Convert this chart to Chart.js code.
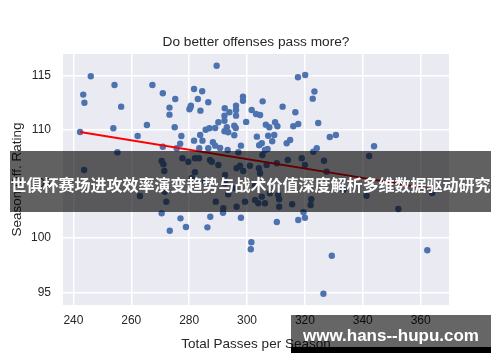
<!DOCTYPE html>
<html><head><meta charset="utf-8">
<script src="https://cdn.jsdelivr.net/npm/chart.js@4.4.0/dist/chart.umd.min.js"></script>
<style>
html,body{margin:0;padding:0;background:#fff;}
#wrap{position:relative;width:500px;height:362px;overflow:hidden;}
canvas{position:absolute;left:0;top:0;}
#band{position:absolute;left:10px;top:151px;width:481px;height:61px;background:rgba(0,0,0,0.62);}
#bandText{position:absolute;left:10px;top:151px;width:481px;height:61px;box-sizing:border-box;padding-top:5px;display:flex;align-items:center;justify-content:center;color:#fff;font-family:"Noto Sans CJK SC",sans-serif;font-weight:bold;font-size:15.5px;white-space:nowrap;}
#bandText span{display:inline-block;}
#wm{position:absolute;left:291px;top:315px;width:200px;height:32px;background:rgba(0,0,0,0.6);}
#wmBar{position:absolute;left:291px;top:347px;width:200px;height:6px;background:#000;}
#wmText{position:absolute;left:291px;top:326px;width:200px;text-align:center;color:#fff;font-family:"Liberation Sans",Arial,sans-serif;font-weight:bold;font-size:17px;line-height:20px;white-space:nowrap;}
</style>
</head><body>
<div id="wrap">
<canvas id="c" width="500" height="362"></canvas>
<div id="band"></div>
<div id="bandText"><span id="bt">世俱杯赛场进攻效率演变趋势与战术价值深度解析多维数据驱动研究</span></div>
<div id="wm"></div>
<div id="wmBar"></div>
<div id="wmText">www.hans--hupu.com</div>
</div>
<script>
const passes = [
 246.0,254.2,243.4,243.8,256.5,267.3,270.9,275.2,273.2,273.2,242.3,253.8,265.4,262.2,275.0,277.3,276.9,270.9,
 289.5,317.6,320.1,281.7,284.5,283.0,280.6,280.1,280.4,283.9,286.6,298.6,298.6,296.2,296.2,296.2,292.3,293.9,
 292.2,292.2,290.1,289.0,293.0,292.2,293.5,295.6,296.1,295.6,299.7,301.6,303.1,304.5,305.4,312.3,316.7,323.3,
 322.7,306.5,307.7,309.7,310.5,307.3,309.4,308.7,303.4,305.1,304.2,316.0,317.7,314.9,313.7,297.9,281.7,283.8,
 284.6,285.7,287.0,288.2,289.0,283.5,290.7,
 324.6,328.6,330.7,324.1,343.9,
 255.2,243.7,263.0,270.5,271.1,271.4,270.5,272.1,271.6,277.0,273.3,278.9,279.7,277.7,275.7,
 286.3,287.3,291.7,297.9,301.5,301.3,329.3,326.4,362.3,
 310.3,317.7,320.0,319.5,322.0,322.2,315.6,311.1,311.1,352.3,341.3,364.0,306.2,303.9,305.1,302.8,307.9,
 286.6,293.3,297.0,307.1,282.0,283.4,287.2,287.8,282.0,290.1,292.4,296.4,297.6,298.7,301.0,304.1,304.5,306.8,
 305.3,306.2,310.3,314.1,318.9,320.0,322.9,289.2,291.8,299.3,296.4,310.8,293.5,295.9,302.8,292.4,285.5,280.9,
 326.6,327.5,342.2,333.3
];
const ratings = [
 114.94,114.14,113.25,112.5,112.14,114.14,113.37,112.85,112.05,111.4,109.8,110.14,110.45,109.43,110.24,109.43,108.72,108.44,
 115.92,114.85,115.06,113.77,113.56,112.85,112.23,111.9,112.05,111.77,112.54,113.06,112.69,112.23,111.83,111.31,111.99,111.62,
 111.31,110.84,110.7,110.17,110.24,109.87,109.77,110.38,110.17,109.5,110.73,111.83,111.46,111.37,112.63,112.14,111.62,113.54,
 112.88,110.48,110.24,110.7,110.33,109.46,109.52,108.94,109.37,108.76,108.57,110.33,110.54,109.06,108.76,108.54,109.0,109.52,
 109.0,110.01,110.14,108.85,108.54,108.3,108.33,
 110.63,109.34,109.52,108.3,108.48,
 107.93,106.29,103.89,107.12,106.82,106.2,102.29,103.37,104.29,101.83,100.69,101.03,107.06,107.37,108.3,
 101.0,101.98,102.35,101.89,99.62,98.97,98.38,94.87,98.88,
 101.49,101.67,101.89,102.39,103.06,103.59,103.13,102.9,103.59,102.69,103.92,104.17,103.22,103.22,103.83,103.52,104.14,
 108.3,108.14,107.93,108.23,107.37,107.37,107.22,107.06,106.08,106.75,105.83,106.45,106.69,106.2,106.69,106.45,105.99,106.75,
 107.68,108.14,106.91,107.22,107.37,106.75,107.98,103.37,102.76,103.37,102.9,103.99,104.05,104.6,104.9,105.06,105.21,105.53,
 107.15,106.14,107.58,104.45
];
const fitPasses = [242.3, 362.3];
const fitRatings = [109.8, 104.6];
const xTicks = [240, 260, 280, 300, 320, 340, 360];
const yTicks = [95, 100, 105, 110, 115];

// fit the overlay caption to span the band width
(function () {
  const el = document.getElementById('bt');
  const w = el.getBoundingClientRect().width;
  if (w > 0) {
    const fs = 15.5 * 480 / w;
    document.getElementById('bandText').style.fontSize = fs.toFixed(2) + 'px';
  }
})();

const bgPlugin = {
  id: 'bg',
  beforeDraw(chart) {
    const {ctx, chartArea: {left, top, width, height}} = chart;
    ctx.save();
    ctx.fillStyle = '#eaeaf2';
    ctx.fillRect(left, top, width, height);
    ctx.restore();
  }
};

const FONT = '"Liberation Sans", Arial, sans-serif';
const TXT = '#262626';

new Chart(document.getElementById('c'), {
  type: 'scatter',
  data: {
    datasets: [
      {
        data: fitPasses.map((x, i) => ({x, y: fitRatings[i]})),
        showLine: true,
        borderColor: '#ff0000',
        borderWidth: 1.8,
        pointRadius: 0,
        order: 0
      },
      {
        data: passes.map((x, i) => ({x, y: ratings[i]})),
        backgroundColor: '#4c72b0',
        borderColor: '#4c72b0',
        borderWidth: 0,
        pointRadius: 3.2,
        order: 1
      }
    ]
  },
  options: {
    responsive: false,
    animation: false,
    events: [],
    layout: {padding: {left: 0, right: 51, top: 0, bottom: 0}},
    font: {family: FONT},
    plugins: {
      legend: {display: false},
      tooltip: {enabled: false},
      title: {
        display: true,
        fullSize: false,
        text: 'Do better offenses pass more?',
        color: TXT,
        font: {family: FONT, size: 13.7, weight: 'normal', lineHeight: 1.2},
        padding: {top: 33.8, bottom: 3.76}
      }
    },
    scales: {
      x: {
        type: 'linear',
        min: 236.4, max: 369.8,
        afterBuildTicks: s => { s.ticks = xTicks.map(v => ({value: v})); },
        afterFit: s => { s.height = 57; },
        grid: {color: '#ffffff', lineWidth: 1.5, drawTicks: false},
        border: {display: false},
        ticks: {padding: 8, color: TXT, font: {family: FONT, size: 12}},
        title: {display: true, text: 'Total Passes per Season', color: TXT,
                font: {family: FONT, size: 13.5}, padding: {top: 0, bottom: 10}}
      },
      y: {
        type: 'linear',
        min: 93.83, max: 117.0,
        afterBuildTicks: s => { s.ticks = yTicks.map(v => ({value: v})); },
        afterFit: s => { s.width = 63; },
        grid: {color: '#ffffff', lineWidth: 1.5, drawTicks: false},
        border: {display: false},
        ticks: {padding: 12, color: TXT, font: {family: FONT, size: 12}},
        title: {display: true, text: 'Season Off. Rating', color: TXT,
                font: {family: FONT, size: 13.5}, padding: {top: 9, bottom: 0}}
      }
    }
  },
  plugins: [bgPlugin]
});
</script>
</body></html>
